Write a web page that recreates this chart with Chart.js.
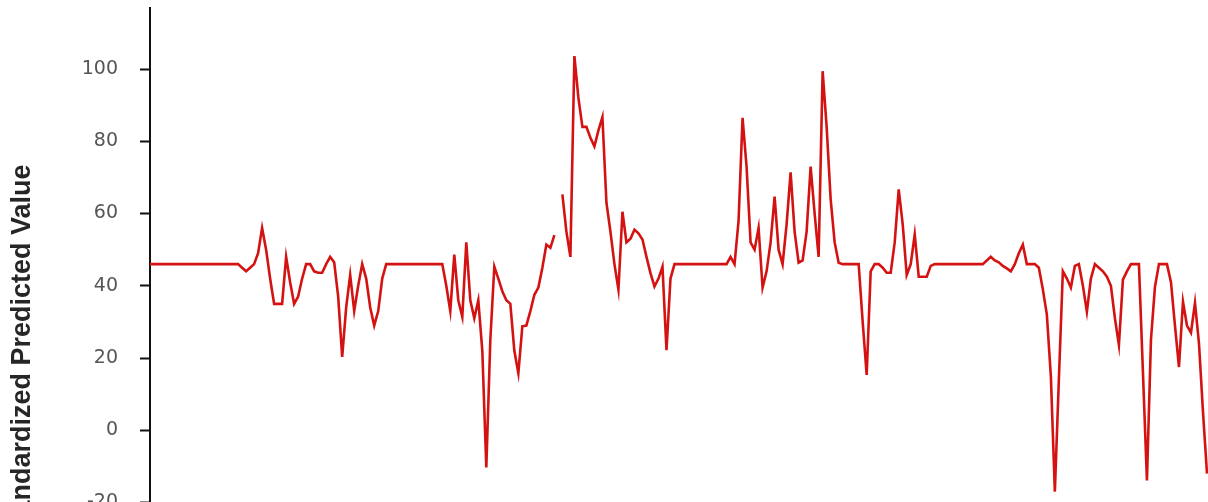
<!DOCTYPE html>
<html>
<head>
<meta charset="utf-8">
<script src="https://cdn.jsdelivr.net/npm/chart.js@4.4.1/dist/chart.umd.min.js"></script>
<style>
  html, body { margin: 0; padding: 0; background: #ffffff; }
  #frame { width: 1208px; height: 502px; overflow: hidden; position: relative; background: #ffffff; }
  #chart { display: block; }
</style>
</head>
<body>
<div id="frame"><canvas id="chart" width="1208" height="699"></canvas></div>
<script>
// Standardized predicted value per observation (null = missing observation)
const predicted = [
  46, 46, 46, 46, 46, 46, 46, 46, 46, 46, 46, 46, 46, 46, 46, 46, 46, 46, 46, 46, 46, 46, 46,
  45, 44, 45, 46, 49, 56, 50, 42, 35, 35, 35, 48, 41, 35, 37, 42, 46, 46, 44, 43.6, 43.6,
  46, 48, 46.5, 37, 20.3, 34, 43, 33, 40, 46, 42, 34, 29, 33, 42,
  46, 46, 46, 46, 46, 46, 46, 46, 46, 46, 46, 46, 46, 46, 46,
  40, 33, 48.6, 36, 31.4, 52, 36, 31, 36, 22, -10.3, 25, 45.3, 42, 38.5, 36, 35, 22, 15.8,
  28.8, 29, 33, 37.5, 39.5, 45, 51.4, 50.5, 54, null, 65.3, 55, 48, 103.6, 92, 84, 84, 81,
  78.6, 83, 86.7, 63, 55, 46, 38.9, 60.5, 52, 53, 55.5, 54.5, 52.8, 48, 43.5, 39.8, 42,
  45.3, 22.2, 42,
  46, 46, 46, 46, 46, 46, 46, 46, 46, 46, 46, 46, 46, 46,
  48, 46, 58, 86.5, 73, 52, 50, 56, 39.5, 44, 52, 64.7, 50, 46, 57, 71.4, 55, 46.4, 47, 55,
  73, 60, 48, 99.4, 84, 64, 52, 46.4,
  46, 46, 46, 46, 46,
  30, 15.3, 44, 46, 46, 45, 43.6, 43.6, 52, 66.7, 57, 43, 46, 54.2, 42.5, 42.5, 42.5, 45.5,
  46, 46, 46, 46, 46, 46, 46, 46, 46, 46, 46, 46, 46,
  47, 48, 47, 46.5, 45.5, 44.8, 44, 46, 49, 51.4, 46, 46, 46, 45, 39, 32, 15, -17, 14,
  44, 42, 39.5, 45.5, 46, 40, 32.8, 42, 46, 45, 44, 42.5, 40, 31, 23.6, 41.7, 44,
  46, 46, 46, 16, -13.9, 25, 39.7, 46, 46, 46, 41, 29, 17.5, 35.6, 29, 27, 35.3, 24, 5, -12
];

// Observation numbers along the horizontal axis
const observations = predicted.map((_, i) => i + 1);

// Value axis ticks and title
const yTicks = [-60, -40, -20, 0, 20, 40, 60, 80, 100];
const yTitle = 'Standardized Predicted Value';

new Chart(document.getElementById('chart'), {
  type: 'line',
  data: {
    labels: observations,
    datasets: [{
      data: predicted,
      borderColor: '#d41212',
      borderWidth: 2.6,
      pointRadius: 0,
      pointHoverRadius: 0,
      tension: 0,
      spanGaps: false,
      fill: false
    }]
  },
  options: {
    responsive: false,
    animation: false,
    events: [],
    layout: { padding: { top: 8, right: 1, bottom: 0, left: 0 } },
    plugins: {
      legend: { display: false },
      tooltip: { enabled: false },
      title: { display: false }
    },
    scales: {
      x: {
        type: 'category',
        display: false,
        offset: false
      },
      y: {
        min: -74.4,
        max: 116.9,
        afterBuildTicks: scale => { scale.ticks = yTicks.map(v => ({ value: v })); },
        afterFit: scale => {
          scale.width = 150;
          scale.paddingTop = 0;
          scale.paddingBottom = 0;
        },
        border: { display: true, color: '#111111', width: 2 },
        grid: {
          drawOnChartArea: false,
          drawTicks: true,
          tickLength: 10,
          tickWidth: 2,
          tickColor: '#111111'
        },
        ticks: {
          padding: 22,
          color: '#555555',
          font: { family: "'DejaVu Sans', sans-serif", size: 19 }
        },
        title: {
          display: true,
          text: yTitle,
          color: '#262626',
          padding: { top: 6, bottom: 0 },
          font: { family: "'Liberation Sans', Arial, sans-serif", size: 27, weight: 'bold' }
        }
      }
    }
  }
});
</script>
</body>
</html>
